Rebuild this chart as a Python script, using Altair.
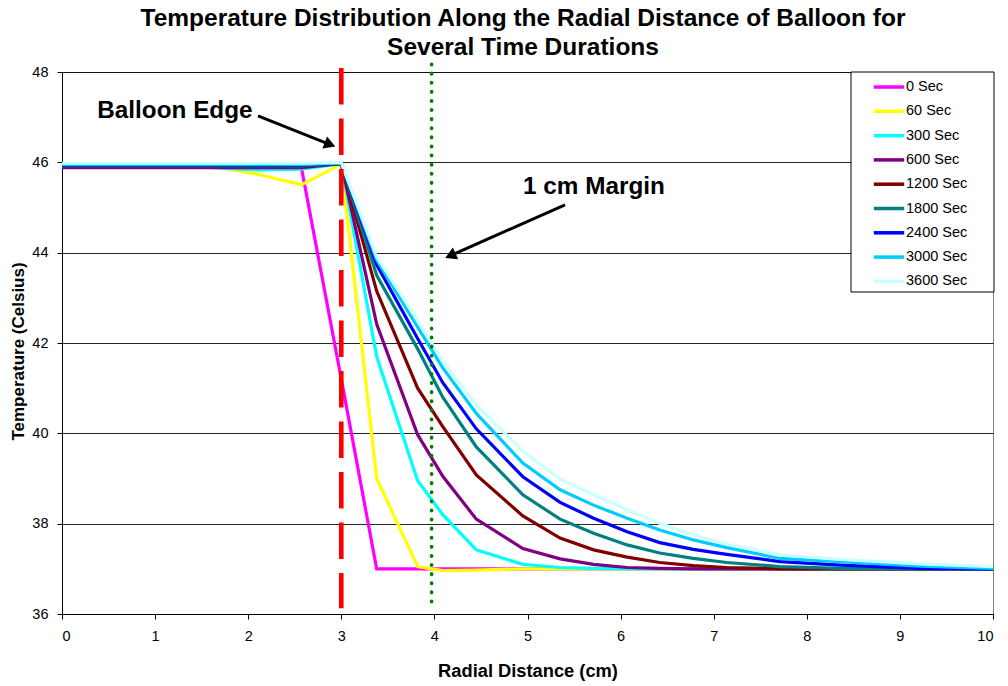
import altair as alt
import pandas as pd

# Radial positions of the mesh nodes (cm); the balloon wall sits at 3 cm
RADIUS_CM = [0.0, 0.43, 0.86, 1.29, 1.71, 2.14, 2.57, 3.0,
             3.38, 3.82, 4.09, 4.45, 4.95, 5.35, 5.71, 6.07, 6.42,
             6.78, 7.14, 7.71, 8.36, 9.22, 10.0]

SERIES = ["0 Sec", "60 Sec", "300 Sec", "600 Sec", "1200 Sec",
          "1800 Sec", "2400 Sec", "3000 Sec", "3600 Sec"]
COLORS = ["#FF00FF", "#FFFF00", "#00FFFF", "#800080", "#800000",
          "#008080", "#0000FF", "#00CCFF", "#CCFFFF"]

# Temperature (Celsius) at each node, one list per elapsed time
T_0 = [45.90, 45.90, 45.90, 45.90, 45.90, 45.90, 45.90, 41.20,
       37.00, 37.00, 37.00, 37.00, 37.00, 37.00, 37.00, 37.00, 37.00,
       37.00, 37.00, 37.00, 37.00, 37.00, 37.00]
T_60 = [45.90, 45.90, 45.90, 45.90, 45.88, 45.72, 45.50, 45.96,
        39.00, 37.05, 36.96, 36.97, 37.00, 37.00, 37.00, 37.00, 37.00,
        37.00, 37.00, 37.00, 37.00, 37.00, 37.00]
T_300 = [45.94, 45.94, 45.94, 45.93, 45.87, 45.83, 45.85, 45.97,
         41.70, 38.95, 38.20, 37.42, 37.10, 37.03, 37.01, 37.00, 37.00,
         37.00, 37.00, 37.00, 37.00, 37.00, 37.00]
T_600 = [45.88, 45.88, 45.88, 45.88, 45.88, 45.88, 45.88, 45.97,
         42.42, 39.97, 39.05, 38.10, 37.45, 37.22, 37.10, 37.03, 37.01,
         37.00, 37.00, 37.00, 37.00, 37.00, 37.00]
T_1200 = [45.91, 45.91, 45.91, 45.91, 45.91, 45.91, 45.91, 45.97,
          43.15, 41.00, 40.15, 39.08, 38.17, 37.68, 37.42, 37.26, 37.14,
          37.07, 37.03, 37.00, 37.00, 37.00, 37.00]
T_1800 = [45.92, 45.92, 45.92, 45.92, 45.92, 45.92, 45.92, 45.97,
          43.50, 41.87, 40.80, 39.70, 38.64, 38.10, 37.79, 37.53, 37.35,
          37.23, 37.14, 37.05, 37.01, 37.00, 37.00]
T_2400 = [45.93, 45.93, 45.93, 45.93, 45.93, 45.93, 45.93, 45.98,
          43.73, 42.10, 41.12, 40.10, 39.04, 38.47, 38.12, 37.82, 37.58,
          37.43, 37.32, 37.16, 37.08, 37.01, 37.00]
T_3000 = [45.95, 45.95, 45.95, 45.95, 45.95, 45.95, 45.95, 45.99,
          43.84, 42.35, 41.45, 40.44, 39.34, 38.75, 38.41, 38.12, 37.86,
          37.64, 37.47, 37.23, 37.16, 37.06, 37.01]
T_3600 = [45.98, 45.98, 45.98, 45.98, 45.98, 45.98, 45.98, 46.00,
          43.91, 42.50, 41.60, 40.63, 39.60, 38.98, 38.64, 38.31, 38.01,
          37.75, 37.55, 37.31, 37.21, 37.11, 37.05]

TEMPS = [T_0, T_60, T_300, T_600, T_1200, T_1800, T_2400, T_3000, T_3600]

X_TICKS = list(range(0, 11))
Y_TICKS = [36, 38, 40, 42, 44, 46, 48]

# Reference lines: balloon edge and the 1 cm margin
EDGE_X = 3.0
MARGIN_X = 3.97

# Callouts: label text, label position, arrow start and arrow tip
NOTE_TEXT = ["Balloon Edge", "1 cm Margin"]
NOTE_X = [1.213, 5.714]
NOTE_Y = [47.14, 45.45]
ARROW_X0 = [2.105, 5.403]
ARROW_Y0 = [47.03, 45.06]
ARROW_X1 = [2.86, 4.19]
ARROW_Y1 = [46.41, 43.95]
ARROW_ANGLE = [111, 246]

FONT = "Liberation Sans"

rows = []
for name, temps in zip(SERIES, TEMPS):
    for r, t in zip(RADIUS_CM, temps):
        rows.append({"radius": r, "temp": t, "series": name})
curves = pd.DataFrame(rows)

x_scale = alt.Scale(domain=[0, 10], nice=False, zero=False)
y_scale = alt.Scale(domain=[36, 48], nice=False, zero=False)
color_scale = alt.Scale(domain=SERIES, range=COLORS)

x_axis = alt.Axis(title="Radial Distance (cm)", values=X_TICKS, grid=False,
                  format="d", labelPadding=10, titleX=465.5, titleY=57,
                  titleBaseline="middle", titleFontSize=18.3)
y_axis = alt.Axis(title="Temperature (Celsius)", values=Y_TICKS, grid=True,
                  format="d", labelPadding=9, titleX=-44, titleY=279,
                  titleAngle=270, titleAlign="center", titleBaseline="middle")

legend = alt.Legend(title=None, orient="none", legendX=817, legendY=5,
                    symbolType="M-1.9,0H1.9", symbolSize=256,
                    symbolStrokeWidth=3.5, symbolOffset=0, labelOffset=7,
                    rowPadding=7.3, padding=0, labelFont=FONT,
                    labelFontSize=14.5, labelColor="black")

X = alt.X("radius:Q", scale=x_scale, axis=x_axis)
Y = alt.Y("temp:Q", scale=y_scale, axis=y_axis)

# Legend frame
frame = alt.Chart(pd.DataFrame({"k": [0]})).mark_rect(
    fill="white", stroke="black", strokeWidth=1
).encode(x=alt.value(789), x2=alt.value(932), y=alt.value(0), y2=alt.value(220))

layers = [frame]
for name in SERIES:
    layers.append(
        alt.Chart(curves[curves.series == name]).mark_line(strokeWidth=3.2)
        .encode(x=X, y=Y,
                color=alt.Color("series:N", scale=color_scale, legend=legend))
    )

edge = alt.Chart(pd.DataFrame({"radius": [EDGE_X], "temp": [48.09], "temp2": [36.13]})).mark_rule(
    color="#FF0000", strokeWidth=4.6, strokeDash=[36.5, 14]
).encode(x=X, y=Y, y2="temp2:Q")

margin = alt.Chart(pd.DataFrame({"radius": [MARGIN_X], "temp": [48.17], "temp2": [36.1]})).mark_rule(
    color="#008000", strokeWidth=3.6, strokeDash=[0.5, 8.6], strokeCap="round"
).encode(x=X, y=Y, y2="temp2:Q")

arrows = pd.DataFrame({"radius": ARROW_X0, "temp": ARROW_Y0,
                       "radius2": ARROW_X1, "temp2": ARROW_Y1,
                       "angle": ARROW_ANGLE})
shafts = alt.Chart(arrows).mark_rule(color="black", strokeWidth=3).encode(
    x=X, y=Y, x2="radius2:Q", y2="temp2:Q")
heads = alt.Chart(arrows).mark_point(
    shape="triangle", filled=True, color="black", opacity=1, size=170
).encode(x=alt.X("radius2:Q", scale=x_scale, axis=x_axis),
         y=alt.Y("temp2:Q", scale=y_scale, axis=y_axis),
         angle=alt.Angle("angle:Q", scale=None))

notes = alt.Chart(pd.DataFrame({"radius": NOTE_X, "temp": NOTE_Y, "label": NOTE_TEXT})).mark_text(
    font=FONT, fontSize=24.3, fontWeight="bold", color="black",
    align="center", baseline="middle"
).encode(x=X, y=Y, text="label:N")

layers += [edge, margin, shafts, heads, notes]

chart = alt.layer(*layers).properties(
    width=931, height=542,
    autosize=alt.AutoSizeParams(type="none"),
    padding={"left": 62, "top": 72, "right": 15, "bottom": 72},
    title=alt.TitleParams(
        ["Temperature Distribution Along the Radial Distance of Balloon for",
         "Several Time Durations"],
        font=FONT, fontSize=24.5, fontWeight="bold", color="black",
        anchor="middle", lineHeight=29, offset=2, dx=-4.5),
).configure_view(
    stroke="#808080", strokeWidth=1
).configure_axis(
    domainColor="black", domainWidth=1, tickColor="black", tickSize=5,
    labelFont=FONT, labelFontSize=14.5, labelColor="black",
    titleFont=FONT, titleFontSize=17, titleFontWeight="bold", titleColor="black",
    gridColor="black", gridWidth=1, gridOpacity=0.85
)

chart.save("out.html", embed_options={"renderer": "svg", "actions": False})
